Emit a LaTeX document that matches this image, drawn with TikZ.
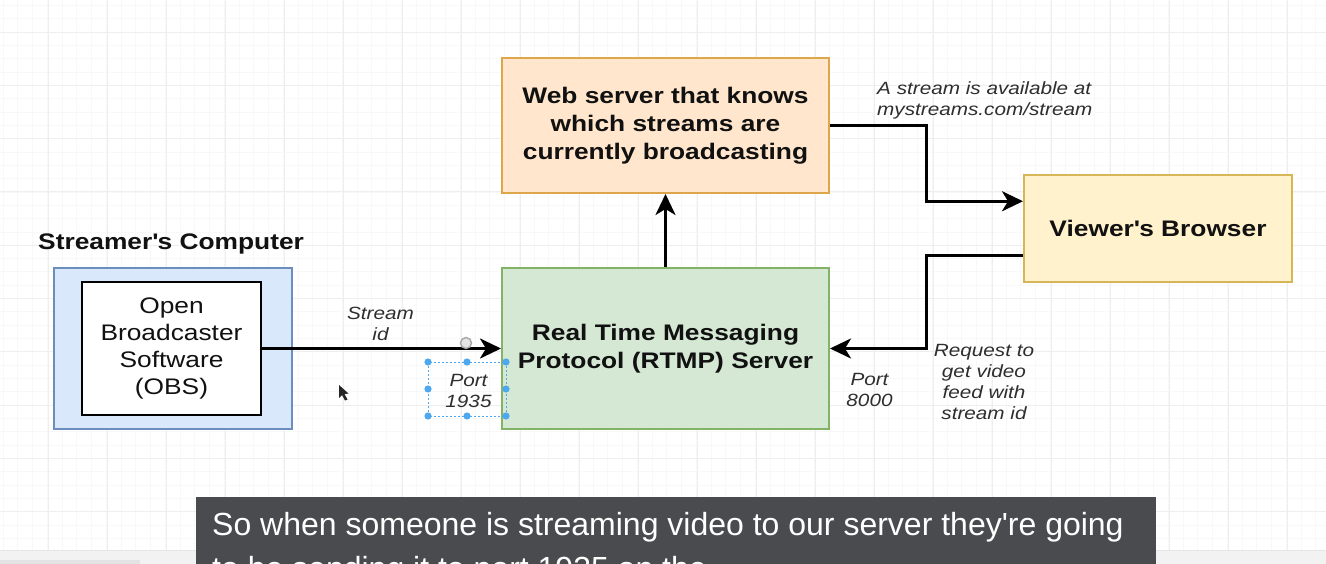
\documentclass[tikz,border=0pt]{standalone}
\usepackage{fontspec}
\setmainfont{Liberation Sans}
\newfontfamily\dgfont{Liberation Sans}[FakeStretch=1.17]
\newfontfamily\subfont{Liberation Sans}
\usetikzlibrary{arrows.meta,calc}
\definecolor{webfill}{HTML}{FFE6CC}
\definecolor{webdraw}{HTML}{DDA64A}
\definecolor{viewfill}{HTML}{FFF2CC}
\definecolor{viewdraw}{HTML}{D6B656}
\definecolor{rtmpfill}{HTML}{D5E8D4}
\definecolor{rtmpdraw}{HTML}{82B366}
\definecolor{pcfill}{HTML}{DAE8FC}
\definecolor{pcdraw}{HTML}{6C8EBF}
\definecolor{selblue}{HTML}{4DA8F0}
\definecolor{subgray}{HTML}{4A4B4F}
\definecolor{lbltext}{HTML}{2E2E2E}
\definecolor{boxtext}{HTML}{111111}
\definecolor{gridminor}{HTML}{F8F8F8}
\definecolor{gridmajor}{HTML}{EEEEEE}
\tikzset{
  box/.style={draw, line width=2pt, inner sep=0pt, align=center, text=boxtext,
    font=\dgfont\bfseries\fontsize{22.5}{28}\selectfont},
  plainbox/.style={draw, line width=2pt, inner sep=0pt, align=center, text=boxtext,
    font=\dgfont\fontsize{22.5}{27}\selectfont},
  lbl/.style={inner sep=0pt, align=center, text=lbltext,
    font=\dgfont\itshape\fontsize{17.7}{21}\selectfont},
  conn/.style={line width=3pt, draw=black, -{Stealth[length=21pt,width=20pt,inset=6pt]}},
  selbox/.style={draw=selblue, line width=1pt, dash pattern=on 2pt off 2pt},
  subline/.style={inner sep=0pt, anchor=base west, text=white,
    font=\subfont\fontsize{32}{44}\selectfont}
}
\begin{document}
\begin{tikzpicture}[x=1pt,y=-1pt]
\useasboundingbox (0,0) rectangle (1326,564);
\clip (0,0) rectangle (1326,564);
\fill[white] (0,0) rectangle (1326,564);
% grid
\foreach \i in {0,...,90} \draw[gridminor, line width=0.8pt] ({3+14.75*\i},0) -- ({3+14.75*\i},564);
\foreach \i in {0,...,43} \draw[gridminor, line width=0.8pt] (0,{5.3+13.33*\i}) -- (1326,{5.3+13.33*\i});
\foreach \i in {0,...,22} \draw[gridmajor, line width=0.8pt] ({48+59*\i},0) -- ({48+59*\i},564);
\foreach \i in {0,...,10} \draw[gridmajor, line width=0.8pt] (0,{32+53.3*\i}) -- (1326,{32+53.3*\i});

% boxes
\node[box, fill=webfill, draw=webdraw, minimum width=327pt, minimum height=135pt] (web) at (665.5,125.5)
  {Web server that knows\\which streams are\\currently broadcasting};
\node[box, fill=viewfill, draw=viewdraw, minimum width=268pt, minimum height=107pt] (viewer) at (1158,228.5)
  {Viewer\textquotesingle s Browser};
\node[box, fill=rtmpfill, draw=rtmpdraw, minimum width=327pt, minimum height=161pt] (rtmp) at (665.5,348.5)
  {Real Time Messaging\\Protocol (RTMP) Server};
\node[box, fill=pcfill, draw=pcdraw, minimum width=238pt, minimum height=160pt] (pc) at (172.5,348.5) {};
\node[plainbox, fill=white, draw=black, minimum width=179pt, minimum height=132pt] (obs) at (171.5,348.5)
  {Open\\Broadcaster\\Software\\(OBS)};
\node[inner sep=0pt, anchor=west, text=boxtext, font=\dgfont\bfseries\fontsize{22.5}{28}\selectfont] (pclabel) at (38,244)
  {Streamer\textquotesingle s Computer};

% connectors
\draw[conn] (obs.east) -- (rtmp.west);
\draw[conn] (rtmp.north) -- (web.south);
\coordinate (vin) at ($(viewer.north west)!0.25!(viewer.south west)$);
\coordinate (vout) at ($(viewer.north west)!0.75!(viewer.south west)$);
\draw[conn] (web.east) -| ($(web.east)!0.5!(vin)$) |- (vin);
\draw[conn] (vout) -| ($(vout)!0.5!(rtmp.east)$) |- (rtmp.east);

% labels
\node[lbl] (lstream) at (380.5,323.5) {Stream\\id};
\node[lbl] (l1935) at (468.5,390.5) {Port\\1935};
\node[lbl] (l8000) at (869.5,390) {Port\\8000};
\node[lbl] (lreq) at (984,382.5) {Request to\\get video\\feed with\\stream id};
\node[lbl, anchor=west, align=left] (lavail) at (877,100.5) {A stream is available at\\mystreams.com/stream};

% selection handles around "Port 1935"
\draw[selbox] (428,362) rectangle (506,416);
\foreach \p in {(428,362),(467,362),(506,362),(428,389),(506,389),(428,416),(467,416),(506,416)}
  \fill[selblue] \p circle (3.6);
\draw[gray!70, line width=1.4pt, fill=gray!20] (466,343) circle (5.5);

% mouse pointer
\fill[black!85] (339,385) -- (339,398) -- (342,395) -- (345,400.5) -- (347.5,399.5) -- (344.5,394) -- (348.5,393.5) -- cycle;

% bottom band and subtitle
\fill[gray!10] (0,550) rectangle (1326,564);
\draw[gray!20, line width=0.8pt] (0,550) -- (1326,550);
\fill[gray!22] (0,560) rectangle (140,564);
\fill[subgray] (196,497) rectangle (1156,600);
\node[subline] (sub1) at (212,535) {So when someone is streaming video to our server they\textquotesingle re going};
\node[subline] (sub2) at (212,579) {to be sending it to port 1935 on the};
\end{tikzpicture}
\end{document}
